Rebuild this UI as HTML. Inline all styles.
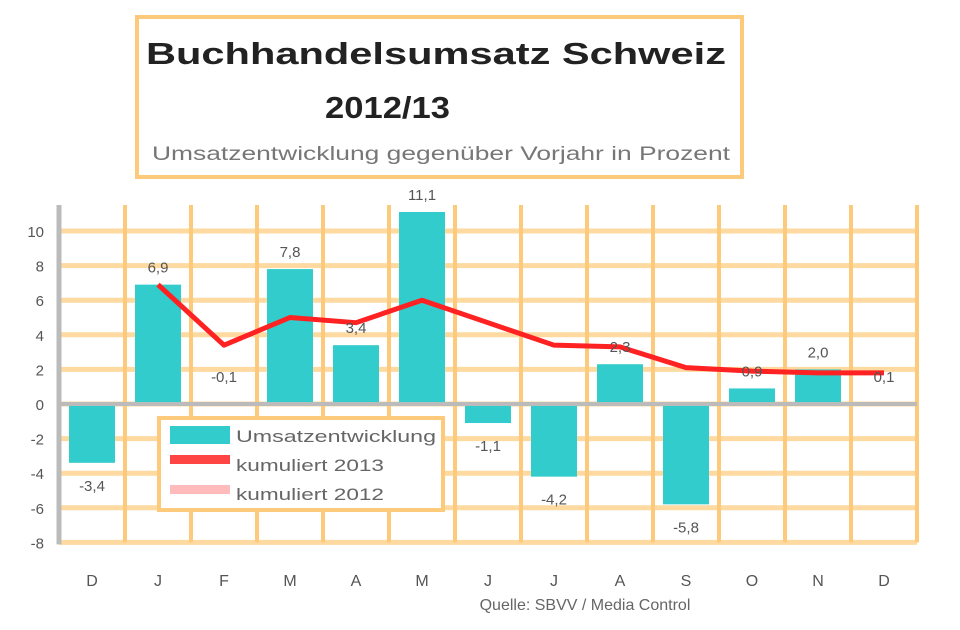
<!DOCTYPE html>
<html><head><meta charset="utf-8"><style>
body{margin:0;background:#fff;font-family:"Liberation Sans",sans-serif}
svg{display:block}
</style></head><body>
<svg width="960" height="630" viewBox="0 0 960 630">
<g>
<rect x="137" y="17" width="605" height="160" fill="#fff" stroke="#fdc97a" stroke-width="4"/>
<text x="146" y="64" textLength="580" lengthAdjust="spacingAndGlyphs" font-size="31" font-weight="bold" fill="#222">Buchhandelsumsatz Schweiz</text>
<text x="325" y="118" textLength="125" lengthAdjust="spacingAndGlyphs" font-size="31" font-weight="bold" fill="#222">2012/13</text>
<text x="152" y="160" textLength="578" lengthAdjust="spacingAndGlyphs" font-size="19" fill="#777">Umsatzentwicklung gegenüber Vorjahr in Prozent</text>
</g>
<g id="grid"></g>
<g id="bars"></g>
<g id="line"></g>
<g id="labels"></g>
<g>
<rect x="159" y="418" width="284" height="92" fill="#fff" stroke="#fdc97a" stroke-width="4"/>
<rect x="170" y="426" width="60" height="18" fill="#33cccc"/>
<text x="236" y="442" textLength="200" lengthAdjust="spacingAndGlyphs" font-size="17" fill="#666">Umsatzentwicklung</text>
<rect x="170" y="455" width="60" height="9" fill="#ff4444"/>
<text x="236" y="471" textLength="148" lengthAdjust="spacingAndGlyphs" font-size="17" fill="#666">kumuliert 2013</text>
<rect x="170" y="485" width="60" height="9" fill="#ffbbbb"/>
<text x="236" y="500" textLength="148" lengthAdjust="spacingAndGlyphs" font-size="17" fill="#666">kumuliert 2012</text>
</g>
<text x="585" y="610" text-anchor="middle" font-size="16" fill="#666">Quelle: SBVV / Media Control</text>
</svg>
<script>
const categories=["D","J","F","M","A","M","J","J","A","S","O","N","D"];
const umsatz=[-3.4,6.9,-0.1,7.8,3.4,11.1,-1.1,-4.2,2.3,-5.8,0.9,2.0,0.1];
const umsatzLabels=["-3,4","6,9","-0,1","7,8","3,4","11,1","-1,1","-4,2","2,3","-5,8","0,9","2,0","0,1"];
const kumuliert2013=[null,6.9,3.4,5.0,4.7,6.0,4.7,3.4,3.3,2.1,1.9,1.8,1.8];
const yTicks=[10,8,6,4,2,0,-2,-4,-6,-8];
const NS="http://www.w3.org/2000/svg";
const x0=59,cw=66,yZero=404,k=17.3;
const xC=i=>x0+cw*(i+0.5);
const yS=v=>yZero-v*k;
function mk(tag,attrs,parent){const e=document.createElementNS(NS,tag);for(const a in attrs)e.setAttribute(a,attrs[a]);document.getElementById(parent).appendChild(e);return e;}
const plotTop=205,plotBot=yS(-8);
yTicks.forEach(t=>{
 const l=mk('line',{x1:x0,x2:x0+cw*categories.length,y1:yS(t),y2:yS(t),stroke:'#fed9a0','stroke-width':5},'grid');
 
 
 const tx=mk('text',{x:44,y:yS(t)+6,'text-anchor':'end','font-size':15,fill:'#555'},'grid');
 tx.textContent=t;
 
 
});
for(let i=1;i<=categories.length;i++){
 const l=mk('line',{x1:x0+cw*i,x2:x0+cw*i,y1:plotTop,y2:plotBot,stroke:'#fdc97a','stroke-width':4},'grid');
 
 
}
const ax=mk('line',{x1:x0,x2:x0,y1:plotTop,y2:plotBot+2,stroke:'#bbb','stroke-width':5},'grid');


categories.forEach((c,i)=>{
 const v=umsatz[i];
 const r=mk('rect',{x:xC(i)-23,width:46,y:Math.min(yS(v),yZero),height:Math.abs(yS(v)-yZero),fill:'#33cccc'},'bars');
 
 
 const tx=mk('text',{x:xC(i),y:586,'text-anchor':'middle','font-size':16,fill:'#555'},'labels');
 tx.textContent=c;
 
 
 const lbY=v>=0.5?yS(v)-12:(i==2||i==12?yS(0)-22:yS(v)+28);
 const vl=mk('text',{x:xC(i),y:lbY,'text-anchor':'middle','font-size':15,fill:'#555'},'labels');
 vl.textContent=umsatzLabels[i];
 
 
});
const zl=mk('line',{x1:x0,x2:x0+cw*categories.length,y1:yZero,y2:yZero,stroke:'#bbbbbb','stroke-width':4},'bars');


let pts=[];kumuliert2013.forEach((v,i)=>{if(v!==null)pts.push(xC(i)+','+yS(v));});
const pl=mk('polyline',{points:pts.join(' '),fill:'none',stroke:'#ff2222','stroke-width':5,'stroke-linejoin':'round'},'line');


</script>
</body></html>
